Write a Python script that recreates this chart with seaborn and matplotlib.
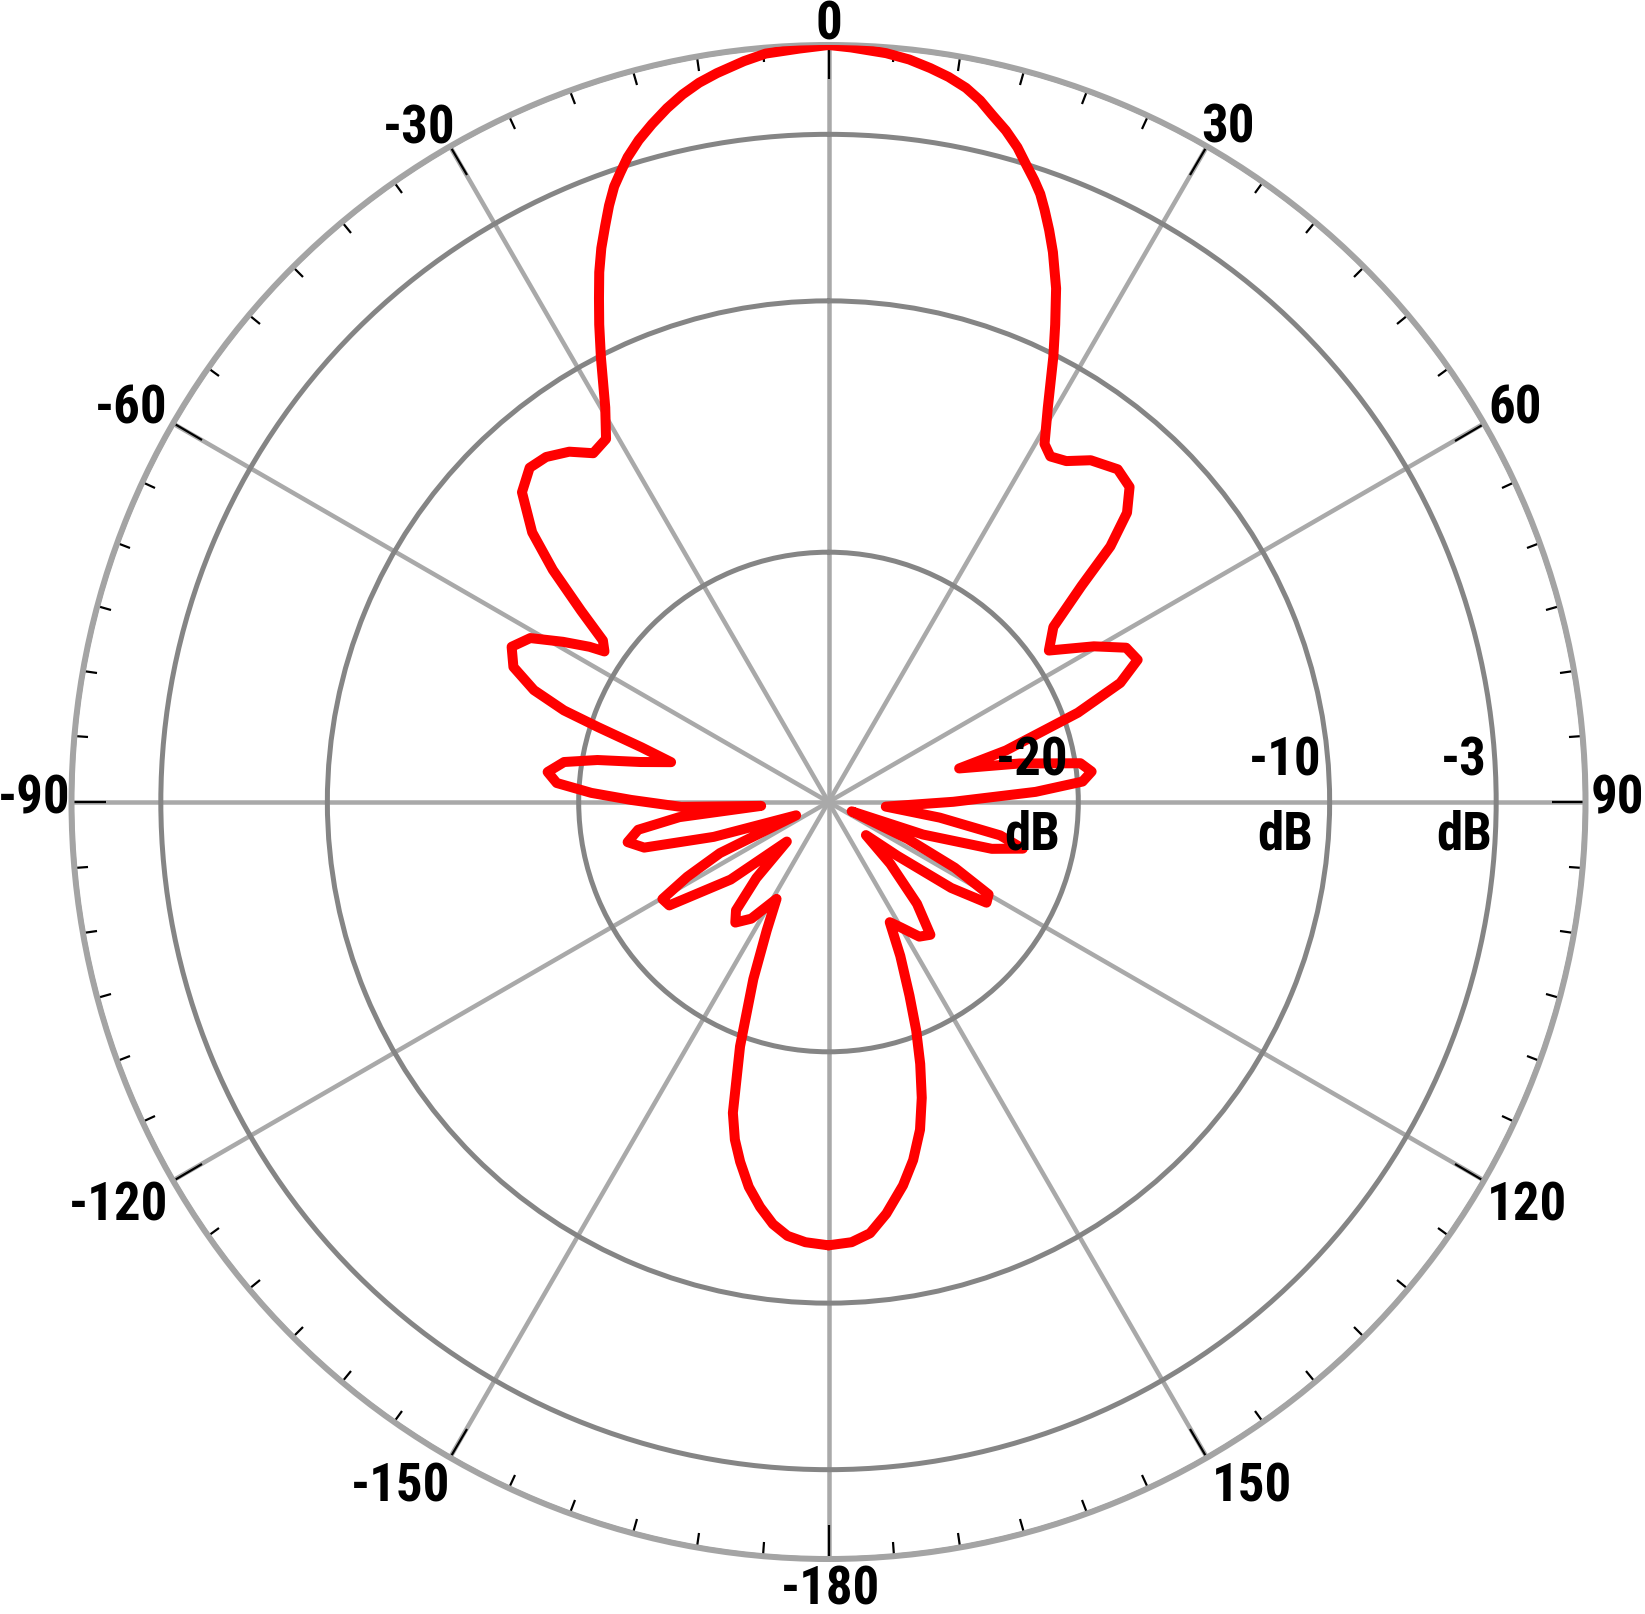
import numpy as np
import matplotlib
matplotlib.use("Agg")
import matplotlib.pyplot as plt
import matplotlib.transforms as mtransforms
from matplotlib import font_manager
import seaborn as sns
import pandas as pd

# ---------------- data ----------------
ANGLES_DEG = [
    -180.0, -177.0, -174.6, -172.5, -170.4, -168.3, -166.2, -164.5, -162.9,
    -160.1, -157.0, -154.3, -151.8,
    -146.5, -142.3, -139.5, -136.5, -133.5, -128.4, -123.0, -120.3, -117.9,
    -115.2, -112.4, -106.9, -103.9, -101.3, -98.3, -95.8, -93.3, -91.9,
    -89.4, -87.8, -86.0, -83.9, -81.4, -79.7, -78.0, -75.8, -73.7, -72.0,
    -70.9, -69.2, -66.8, -63.9, -61.2, -58.9, -57.0, -56.1, -54.4, -52.3,
    -49.9, -47.7, -44.7, -41.8, -39.3, -36.5, -34.0, -31.5, -29.5, -27.1,
    -25.65, -24.5, -23.4, -22.3, -21.2, -20.2, -19.2, -18.3, -17.3, -16.0,
    -14.6, -13.1, -11.65, -10.2, -8.7, -6.5, -4.8, -2.2,
    0.0,
    1.7, 4.4, 6.2, 7.9, 9.4, 10.9, 12.2, 13.4, 14.8, 16.1, 17.2, 18.3,
    19.2, 20.05, 21.1, 22.2, 23.9, 25.4, 26.8, 29.1,
    31.1, 32.7, 34.9, 37.5, 41.0, 43.7, 45.9, 47.8, 49.5, 52.1, 55.5, 59.6,
    62.6, 65.3, 67.8, 70.3, 73.8, 75.6, 78.6, 81.25, 83.4, 85.4, 87.2, 89.9,
    94.6, 98.0, 101.0, 103.5, 106.0, 109.0, 112.0, 115.0, 117.5, 120.0,
    122.5, 125.0, 128.0, 131.5, 135.0, 139.0, 142.5, 146.0, 150.0, 153.0,
    155.0, 157.3, 159.0, 160.7, 162.5, 164.4, 166.7, 169.0, 172.0, 174.5,
    177.0, 180.0,
]
GAIN_DB = [
    -12.3, -12.4, -12.6, -13.0, -13.6, -14.3, -15.2, -16.0, -17.0,
    -19.6, -22.3, -24.3, -25.6,
    -24.4, -23.9, -24.3, -25.8, -27.7, -25.0, -22.4, -22.3, -23.6,
    -25.2, -28.6, -25.2, -22.4, -21.8, -22.3, -24.0, -27.3, -24.1,
    -22.1, -20.5, -19.1, -18.7, -19.3, -20.6, -22.3, -23.5, -22.2, -20.3,
    -18.8, -17.4, -16.3, -15.9, -16.4, -17.6, -18.6, -19.2, -18.9, -17.5,
    -15.6, -14.0, -12.6, -12.1, -12.2, -12.6, -13.2, -13.0, -11.9, -10.06,
    -8.8, -7.8, -6.8, -5.9, -5.1, -4.35, -3.67, -3.2, -2.74, -2.3,
    -1.9, -1.5, -1.16, -0.88, -0.66, -0.38, -0.2, -0.1,
    0.0,
    -0.07, -0.2, -0.34, -0.54, -0.74, -1.0, -1.32, -1.7, -2.1, -2.54, -3.0, -3.53,
    -4.0, -4.57, -5.3, -6.1, -7.45, -8.85, -10.1, -12.0,
    -13.3, -13.6, -13.4, -12.8, -12.4, -12.6, -13.4, -14.8, -16.7, -18.6, -19.3, -17.7,
    -16.6, -16.4, -17.4, -19.4, -22.6, -24.6, -22.2, -19.8, -19.4, -19.8, -21.7, -25.0,
    -27.7, -25.5, -23.0, -22.0, -23.2, -26.0, -29.0, -26.5, -24.3, -22.6,
    -22.5, -24.0, -26.5, -28.0, -26.5, -24.6, -23.3, -23.5, -24.2, -24.6,
    -23.2, -21.6, -20.2, -18.9, -17.6, -16.4, -15.3, -14.4, -13.4, -12.7,
    -12.4, -12.3,
]

# radial scale of the chart: dB value -> fraction of the outer radius
RING_DB = [-30.0, -20.0, -10.0, -3.0, 0.0]
RING_FRAC = [0.0, 0.330, 0.662, 0.882, 1.0]
RING_TICKS = [-20, -10, -3, 0]
RING_LABELS = ["-20\ndB", "-10\ndB", "-3\ndB"]

ANGLE_TICKS = [0, 30, 60, 90, 120, 150, 180, -150, -120, -90, -60, -30]
ANGLE_LABELS = ["0", "30", "60", "90", "120", "150", "-180",
                "-150", "-120", "-90", "-60", "-30"]

# ---------------- style ----------------
sns.set_theme(style="white")
names = {f.name for f in font_manager.fontManager.ttflist}
FONT, FS = None, 34
for cand in ["Liberation Sans Narrow", "Roboto Condensed", "Open Sans Condensed"]:
    if cand in names:
        FONT, FS = cand, 38
        break
if FONT is None:
    FONT = "Liberation Sans" if "Liberation Sans" in names else "DejaVu Sans"
plt.rcParams["font.family"] = [FONT, "DejaVu Sans"]

PX = 72.0 / 100.0  # points per pixel at dpi=100

def fwd(v):
    v = np.asarray(v, dtype=float)
    out = np.interp(v, RING_DB, RING_FRAC)
    s_lo = (RING_FRAC[1] - RING_FRAC[0]) / (RING_DB[1] - RING_DB[0])
    s_hi = (RING_FRAC[-1] - RING_FRAC[-2]) / (RING_DB[-1] - RING_DB[-2])
    out = np.where(v < RING_DB[0], RING_FRAC[0] + (v - RING_DB[0]) * s_lo, out)
    out = np.where(v > RING_DB[-1], RING_FRAC[-1] + (v - RING_DB[-1]) * s_hi, out)
    return out

def inv(r):
    r = np.asarray(r, dtype=float)
    out = np.interp(r, RING_FRAC, RING_DB)
    s_lo = (RING_DB[1] - RING_DB[0]) / (RING_FRAC[1] - RING_FRAC[0])
    s_hi = (RING_DB[-1] - RING_DB[-2]) / (RING_FRAC[-1] - RING_FRAC[-2])
    out = np.where(r < RING_FRAC[0], RING_DB[0] + (r - RING_FRAC[0]) * s_lo, out)
    out = np.where(r > RING_FRAC[-1], RING_DB[-1] + (r - RING_FRAC[-1]) * s_hi, out)
    return out

fig = plt.figure(figsize=(16.45, 16.14), dpi=100)
fig.patch.set_facecolor("white")
ax = fig.add_axes([71.5 / 1645, 55 / 1614, 1514 / 1645, 1514 / 1614],
                  projection="polar")
ax.set_facecolor("white")
ax.set_theta_zero_location("N")
ax.set_theta_direction(-1)
ax.set_rscale("function", functions=(fwd, inv))

df = pd.DataFrame({"theta": np.deg2rad(ANGLES_DEG), "gain": GAIN_DB})
sns.lineplot(data=df, x="theta", y="gain", ax=ax, sort=False, estimator=None,
             color="#ff0000", linewidth=10 * PX, zorder=5,
             solid_joinstyle="round", solid_capstyle="round")

ax.set_ylim(-30, 0)
ax.set_xlabel("")
ax.set_ylabel("")

# grid
ax.set_yticks(RING_TICKS)
ax.set_yticklabels([])
ax.set_xticks(np.deg2rad(np.arange(0, 360, 30)))
ax.set_xticks(np.deg2rad(np.arange(0, 360, 5)), minor=True)
ax.set_xticklabels([])
ax.xaxis.grid(True, which="major", color="#a9a9a9", linewidth=4.5 * PX)
ax.xaxis.grid(False, which="minor")
ax.yaxis.grid(True, color="#858585", linewidth=5 * PX)
ax.tick_params(axis="y", left=False, right=False)
ax.tick_params(axis="x", which="both", bottom=False, top=True,
               labelbottom=False, labeltop=False)
ax.tick_params(axis="x", which="major", direction="in", length=34 * PX,
               width=2.2 * PX, color="black", pad=0)
ax.tick_params(axis="x", which="minor", direction="in", length=14 * PX,
               width=2.2 * PX, color="black", pad=0)
ax.spines["polar"].set_color("#a4a4a4")
ax.spines["polar"].set_linewidth(6 * PX)

txt_kw = dict(fontsize=FS, fontweight="bold", color="black", zorder=7)

def offset(dx_px, dy_px):
    return ax.transData + mtransforms.ScaledTranslation(
        dx_px / 100.0, dy_px / 100.0, fig.dpi_scale_trans)

DIGIT_H = 0.711 * FS / PX
angle_place = {
    0: ("center", "baseline", 0, 6),
    30: ("left", "baseline", -6, 4),
    60: ("left", "baseline", 4, 0),
    90: ("left", "center", 5, 3),
    120: ("left", "baseline", 3, -DIGIT_H - 2),
    150: ("left", "baseline", 5, -DIGIT_H - 6),
    180: ("center", "baseline", 2, -DIGIT_H - 8),
    -150: ("right", "baseline", 0, -DIGIT_H - 6),
    -120: ("right", "baseline", -5, -DIGIT_H - 2),
    -90: ("right", "center", -1, 3),
    -60: ("right", "baseline", -5, 0),
    -30: ("right", "baseline", 5, 3),
}
for ang, lab in zip(ANGLE_TICKS, ANGLE_LABELS):
    ha, va, dx, dy = angle_place[ang]
    ax.text(np.deg2rad(ang), 0, lab, ha=ha, va=va,
            transform=offset(dx, dy), **txt_kw)

ring_dx = {-20: -10, -10: -8, -3: -4}
for val, lab in zip(RING_TICKS[:-1], RING_LABELS):
    ax.text(np.deg2rad(90), val, lab, ha="right", va="center",
            multialignment="center", linespacing=1.6,
            transform=offset(ring_dx[val], 4), **txt_kw)

fig.savefig("out.png", dpi=100, facecolor="white")
